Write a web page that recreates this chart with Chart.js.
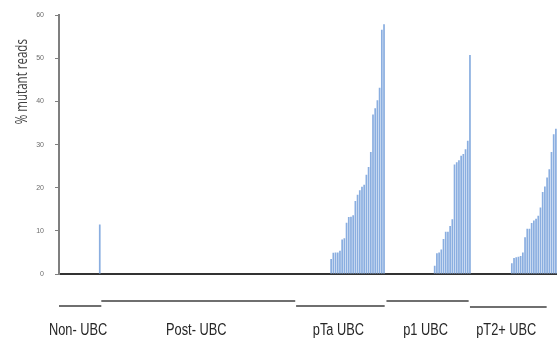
<!DOCTYPE html>
<html>
<head>
<meta charset="utf-8">
<script src="https://cdn.jsdelivr.net/npm/chart.js@4"></script>
<style>
  body { margin: 0; background: #fff; overflow: hidden; }
  #wrap { width: 557px; height: 339px; }
</style>
</head>
<body>
<div id="wrap"><canvas id="grafico" width="557" height="339"></canvas></div>
<script>
// % mutant reads per sample, sorted within each group
const nonUbc = [
  0, 0, 0, 0, 0, 0, 0, 0, 0, 0, 0, 0, 0, 0, 0, 0, 0, 0, 11.5
];
const postUbc = [
  0, 0, 0, 0, 0, 0, 0, 0, 0, 0, 0, 0, 0, 0, 0, 0, 0, 0, 0, 0, 0, 0,
  0, 0, 0, 0, 0, 0, 0, 0, 0, 0, 0, 0, 0, 0, 0, 0, 0, 0, 0, 0, 0, 0,
  0, 0, 0, 0, 0, 0, 0, 0, 0, 0, 0, 0, 0, 0, 0, 0, 0, 0, 0, 0, 0, 0,
  0, 0, 0, 0, 0, 0, 0, 0, 0, 0, 0, 0, 0, 0, 0, 0, 0, 0, 0, 0, 0, 0, 0
];
const ptaUbc = [
  0, 0, 0, 0, 0, 0, 0, 0, 0, 0, 0, 0, 0, 0, 0,
  3.5, 4.9, 5.0, 5.0, 5.4, 8.0, 8.3, 11.9, 13.2, 13.3, 13.6, 16.9, 18.4,
  19.4, 20.2, 20.7, 23.0, 24.8, 28.3, 37.0, 38.4, 40.3, 43.2, 56.6, 57.9
];
const p1Ubc = [
  0, 0, 0, 0, 0, 0, 0, 0, 0, 0, 0, 0, 0, 0, 0, 0, 0, 0, 0, 0, 0, 0,
  1.9, 4.8, 5.0, 5.7, 8.1, 9.8, 9.8, 11.1, 12.7, 25.4, 25.9, 26.4, 27.4,
  27.8, 28.9, 30.9, 50.8
];
const pt2Ubc = [
  0, 0, 0, 0, 0, 0, 0, 0, 0, 0, 0, 0, 0, 0, 0, 0, 0, 0,
  2.5, 3.7, 3.9, 4.0, 4.2, 5.0, 8.5, 10.5, 10.5, 11.8, 12.4, 12.8, 13.5,
  15.4, 19.0, 20.3, 22.4, 24.3, 28.3, 32.4, 33.7
];
const grupos = ['Non- UBC', 'Post- UBC', 'pTa UBC', 'p1 UBC', 'pT2+ UBC'];
const yTicks = [0, 10, 20, 30, 40, 50, 60];

const valores = [...nonUbc, ...postUbc, ...ptaUbc, ...p1Ubc, ...pt2Ubc];
const amostras = valores.map((v, i) => i + 1);

// underline spans under each group, in sample units (as drawn in the figure)
const tracos = [[0, 19.2], [19.2, 107.2], [107.6, 147.8], [148.6, 185.9], [186.5, 221.3]];
const tracoNivel = [32, 27, 32, 27, 33];

// text in the figure is squeezed sideways
function textoEstreito(ctx, txt, x, y, fator) {
  ctx.save();
  ctx.translate(x, y);
  ctx.scale(fator, 1);
  ctx.fillText(txt, 0, 0);
  ctx.restore();
}

const gruposPlugin = {
  id: 'grupos',
  afterDraw(chart) {
    const { ctx, chartArea, scales } = chart;
    const x = scales.x, y = scales.y;
    const n = amostras.length;
    ctx.save();
    ctx.strokeStyle = '#3f3f3f';
    ctx.lineWidth = 1.5;
    ctx.fillStyle = '#262626';
    ctx.font = '16px "Liberation Sans", sans-serif';
    ctx.textAlign = 'center';
    ctx.textBaseline = 'alphabetic';
    tracos.forEach((t, i) => {
      const x0 = x.getPixelForDecimal(t[0] / n);
      const x1 = x.getPixelForDecimal(t[1] / n);
      const yy = chartArea.bottom + tracoNivel[i];
      ctx.beginPath();
      ctx.moveTo(x0, yy);
      ctx.lineTo(x1, yy);
      ctx.stroke();
      textoEstreito(ctx, grupos[i], (x0 + x1) / 2 - 2, chartArea.bottom + 61, 0.8);
    });
    // y title, sitting high on the axis like the original
    ctx.fillStyle = '#404040';
    ctx.font = '16px "Open Sans", sans-serif';
    ctx.translate(chartArea.left - 37, y.getPixelForValue(44.6));
    ctx.rotate(-Math.PI / 2);
    ctx.textBaseline = 'middle';
    textoEstreito(ctx, '% mutant reads', 0, 0, 0.72);
    ctx.restore();
  }
};

new Chart(document.getElementById('grafico'), {
  type: 'bar',
  data: {
    labels: amostras,
    datasets: [{
      data: valores,
      backgroundColor: '#8aaee0',
      borderWidth: 0,
      barPercentage: 0.78,
      categoryPercentage: 1
    }]
  },
  options: {
    responsive: false,
    animation: false,
    devicePixelRatio: 1,
    layout: { padding: { left: 0, right: 0, top: 15, bottom: 65 } },
    plugins: { legend: { display: false }, tooltip: { enabled: false } },
    scales: {
      x: {
        grid: { display: false },
        ticks: { display: false },
        border: { color: '#333', width: 2 },
        afterFit: s => { s.height = 0; }
      },
      y: {
        min: 0,
        max: 60,
        afterBuildTicks: s => { s.ticks = yTicks.map(v => ({ value: v })); },
        grid: { drawOnChartArea: false, drawTicks: true, tickLength: 4, color: '#7f7f7f' },
        border: { color: '#7f7f7f', width: 2 },
        ticks: {
          color: '#6b6b6b',
          padding: 11,
          font: { size: 7, family: '"Liberation Sans", sans-serif' }
        },
        afterFit: s => { s.width = 59; }
      }
    }
  },
  plugins: [gruposPlugin]
});
</script>
</body>
</html>
